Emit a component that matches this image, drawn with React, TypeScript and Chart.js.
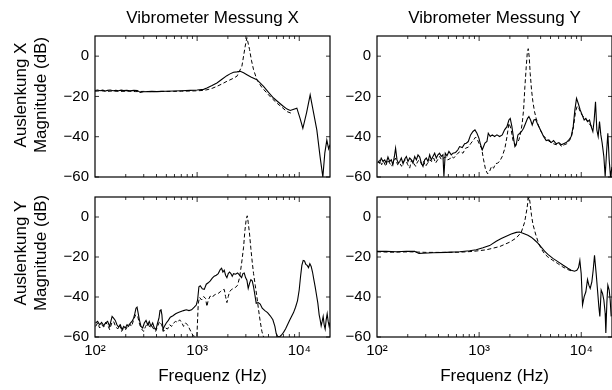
import React, { useEffect, useRef } from 'react';
import { Chart, registerables } from 'chart.js';

Chart.register(...registerables);

type Pt = [number, number]; // [frequency Hz, magnitude dB]

const freqTicks = [100, 1000, 10000];
const freqTickLabels = ['10\u00B2', '10\u00B3', '10\u2074'];
const dbTicks = [-60, -40, -20, 0];
const columnTitles = ['Vibrometer Messung X', 'Vibrometer Messung Y'];
const rowTitles = [['Auslenkung X', 'Magnitude (dB)'], ['Auslenkung Y', 'Magnitude (dB)']];
const xAxisTitle = 'Frequenz (Hz)';

// Row "Auslenkung X", column "Messung X"
const xxSolid: Pt[] = [
  [100, -17.1], [106, -16.8], [112, -17.2], [119, -16.9], [126, -17.3], [133, -17.0], [141, -16.8], [150, -17.2],
  [160, -17.0], [170, -17.2], [180, -16.9], [191, -17.1], [205, -17.0], [220, -17.2], [240, -17.0], [260, -17.1],
  [278, -18.0], [300, -17.7], [330, -17.6], [360, -17.5], [404, -17.6], [450, -17.5], [500, -17.4], [588, -17.3],
  [700, -17.2], [857, -17.0], [1000, -16.8], [1157, -16.5], [1247, -15.8], [1400, -14.6], [1562, -13.3], [1750, -11.5],
  [1956, -9.7], [2100, -8.8], [2274, -8.0], [2450, -7.8], [2644, -7.5], [2850, -8.3], [3072, -9.2], [3400, -10.5],
  [3847, -11.7], [4472, -15.0], [5000, -18.0], [5602, -20.8], [6300, -23.0], [7015, -25.0], [7600, -26.3], [8153, -27.0],
  [8700, -26.5], [9474, -25.8], [10200, -31.0], [10845, -35.8], [11800, -28.0], [12790, -19.2], [13800, -28.0],
  [14870, -36.7], [16000, -50.0], [17020, -60.0], [17800, -48.0], [18620, -41.7], [19400, -46.0], [20000, -44.0],
];
const xxDashed: Pt[] = [
  [100, -17.4], [115, -17.2], [130, -17.5], [150, -17.3], [175, -17.5], [210, -17.4], [250, -17.6], [300, -17.5],
  [360, -17.6], [450, -17.5], [588, -17.5], [700, -17.4], [857, -17.3], [1000, -17.2], [1157, -17.0], [1247, -16.7],
  [1400, -16.0], [1562, -15.0], [1750, -13.8], [1956, -12.5], [2200, -11.3], [2452, -10.0], [2744, -5.0], [2958, 5.0],
  [3072, 9.2], [3261, 3.3], [3400, -2.0], [3568, -6.7], [3847, -11.7], [4300, -15.5], [4819, -18.3], [5400, -21.0],
  [6037, -23.3], [6800, -25.5], [7559, -27.5], [8200, -28.2], [8787, -28.3],
];

// Row "Auslenkung X", column "Messung Y"
const xySolid: Pt[] = [
  [102, -52.3], [106, -53.1], [110, -50.6], [114.5, -52.3], [119, -51.5], [123, -53.1], [128, -50.1], [133, -52.3],
  [138, -51.5], [143, -53.9], [148, -49.8], [152, -45.7], [157, -51.5], [162, -53.1], [167, -52.3], [173, -50.6],
  [180, -53.4], [187, -51.1], [194, -49.8], [201, -52.3], [209, -50.6], [217, -51.5], [225, -53.1], [234, -49.8],
  [243, -51.5], [252, -49.0], [262, -50.1], [272, -53.1], [282, -54.7], [293, -51.5], [304, -50.6], [316, -52.3],
  [328, -49.0], [340, -51.5], [353, -49.8], [367, -48.2], [381, -50.6], [395, -49.0], [410, -48.2], [426, -49.8],
  [442, -49.0], [452, -59.7], [466, -48.2], [484, -49.5], [506, -47.3], [534, -49.0], [554, -48.2], [588, -47.8],
  [620, -46.5], [644, -44.9], [684, -45.4], [721, -43.5], [748, -43.2], [783, -42.4], [825, -39.1], [870, -37.4],
  [910, -36.6], [952, -38.3], [995, -40.7], [1034, -44.0], [1073, -46.5], [1106, -44.9], [1140, -43.2], [1192, -42.4],
  [1229, -38.3], [1285, -39.9], [1345, -39.1], [1417, -39.9], [1494, -39.1], [1586, -39.9], [1684, -39.1], [1775, -36.6],
  [1871, -35.0], [1957, -31.7], [2017, -30.9], [2094, -35.0], [2174, -40.7], [2241, -44.9], [2309, -44.0], [2397, -39.1],
  [2489, -38.3], [2603, -37.4], [2724, -35.8], [2850, -33.3], [2980, -30.9], [3072, -30.0], [3189, -31.7], [3311, -34.2],
  [3438, -31.7], [3569, -31.4], [3706, -33.3], [3847, -35.0], [4055, -37.4], [4274, -39.9], [4539, -41.9], [4819, -41.6],
  [5080, -42.9], [5355, -41.9], [5687, -43.5], [6037, -42.9], [6364, -44.0], [6708, -43.5], [7122, -42.9], [7561, -41.6],
  [7970, -39.9], [8340, -35.0], [8659, -26.7], [8990, -21.0], [9333, -23.4], [9763, -26.7], [10212, -29.2], [10683, -31.7],
  [11092, -30.9], [11515, -32.5], [12044, -31.7], [12505, -35.0], [12986, -37.4], [13382, -31.7], [13790, -22.6],
  [14208, -36.6], [14644, -39.9], [15091, -32.5], [15552, -39.1], [16025, -43.2], [16640, -49.8], [17148, -59.7],
  [17670, -48.2], [18209, -38.3], [18764, -51.5], [19337, -59.7], [20000, -55.0],
];
const xyDashed: Pt[] = [
  [102, -53.1], [106, -51.5], [111, -53.9], [116, -52.3], [122, -54.7], [127, -51.5], [133, -53.1], [139, -54.7],
  [146, -52.3], [152, -50.6], [159, -53.9], [167, -53.1], [174, -54.7], [182, -52.3], [191, -51.5], [200, -53.9],
  [209, -55.6], [218, -51.5], [228, -53.1], [239, -54.7], [250, -52.3], [262, -51.5], [274, -53.9], [286, -52.3],
  [299, -54.7], [313, -53.1], [328, -51.5], [343, -52.3], [359, -50.6], [375, -53.1], [392, -51.5], [410, -49.8],
  [429, -51.5], [449, -50.6], [470, -50.1], [491, -51.5], [514, -51.1], [538, -49.8], [563, -50.6], [588, -49.5],
  [620, -48.2], [654, -47.3], [694, -48.2], [737, -45.7], [783, -45.2], [832, -43.2], [883, -41.6], [923, -40.2],
  [966, -41.6], [1011, -44.0], [1057, -45.7], [1106, -51.5], [1157, -56.4], [1210, -58.4], [1266, -57.2], [1324, -54.7],
  [1385, -55.6], [1449, -53.4], [1516, -53.1], [1586, -52.3], [1684, -49.8], [1788, -45.7], [1871, -40.2], [1957, -33.3],
  [2047, -35.8], [2141, -41.6], [2241, -44.0], [2344, -43.2], [2452, -41.6], [2564, -37.4], [2642, -33.3], [2724, -26.7],
  [2806, -15.2], [2892, -5.3], [2958, 1.3], [3025, 3.7], [3094, -0.4], [3164, -8.6], [3261, -16.9], [3360, -22.6],
  [3488, -27.6], [3622, -30.9], [3789, -34.2], [3964, -36.6], [4210, -39.1], [4471, -40.7], [4747, -41.9], [5042, -42.9],
  [5355, -43.5], [5687, -44.0], [6037, -43.2], [6412, -44.9], [6808, -44.0], [7229, -43.5], [7675, -41.9], [8029, -39.9],
  [8400, -35.0], [8788, -27.6], [9125, -24.8], [9474, -25.9], [9911, -28.4], [10367, -29.7], [10845, -30.9],
  [11343, -31.7], [11868, -33.3], [12415, -34.6], [12986, -35.0],
];

// Row "Auslenkung Y", column "Messung X"
const yxSolid: Pt[] = [
  [101.5, -53.0], [106, -52.2], [111, -53.9], [116, -52.7], [122, -54.4], [127, -53.0], [133, -52.2], [139, -54.7],
  [143, -52.2], [147, -49.7], [152, -50.6], [158, -51.7], [164, -53.9], [170, -55.0], [177, -53.9], [184, -56.3],
  [191, -54.7], [198, -55.5], [206, -53.9], [213, -54.7], [222, -53.0], [230, -52.2], [239, -50.6], [246, -48.1],
  [252, -45.6], [258, -45.1], [264, -47.8], [272, -51.4], [282, -54.7], [293, -55.5], [304, -53.0], [316, -51.7],
  [328, -53.9], [340, -52.2], [353, -54.7], [367, -53.0], [381, -55.5], [395, -56.3], [410, -53.0], [423, -50.6],
  [433, -46.8], [442, -46.1], [452, -48.9], [463, -56.3], [477, -54.7], [499, -53.0], [522, -51.7], [546, -50.1],
  [580, -49.4], [616, -48.4], [654, -47.8], [694, -47.3], [737, -46.8], [783, -46.4], [832, -46.8], [883, -46.4],
  [938, -45.1], [981, -44.0], [1011, -41.5], [1041, -34.9], [1073, -34.4], [1123, -35.9], [1175, -36.2], [1229, -33.6],
  [1285, -32.9], [1345, -31.9], [1407, -30.6], [1471, -29.6], [1539, -29.1], [1610, -28.3], [1684, -26.3], [1736, -25.6],
  [1788, -27.5], [1843, -26.6], [1899, -29.1], [1957, -30.3], [2017, -28.3], [2078, -27.5], [2141, -28.3], [2207, -29.6],
  [2274, -28.3], [2379, -28.6], [2489, -28.0], [2603, -29.1], [2724, -30.3], [2806, -28.3], [2892, -28.0], [2980, -30.3],
  [3072, -31.6], [3164, -35.7], [3261, -33.2], [3360, -31.3], [3463, -31.9], [3569, -34.9], [3678, -39.0], [3789, -43.1],
  [3964, -42.8], [4147, -43.5], [4338, -45.6], [4607, -46.8], [4892, -47.8], [5195, -49.4], [5516, -51.4], [5773, -54.7],
  [5947, -58.3], [6128, -59.6], [6412, -60.0], [6708, -59.0], [7016, -57.7], [7337, -56.0], [7675, -53.9], [8029, -51.7],
  [8400, -49.7], [8788, -47.8], [9195, -45.1], [9618, -41.8], [9986, -36.5], [10290, -29.9], [10603, -24.2],
  [10926, -21.7], [11260, -22.0], [11602, -23.7], [11956, -24.2], [12322, -25.3], [12697, -23.3], [13084, -24.7],
  [13484, -27.5], [13895, -31.3], [14318, -34.9], [14754, -39.0], [15205, -43.1], [15668, -48.9], [16025, -51.4],
  [16390, -54.4], [16764, -52.2], [17148, -49.7], [17539, -53.9], [17939, -56.0], [18348, -51.4], [18766, -48.4],
  [19194, -52.2], [19632, -54.7], [20000, -52.7],
];
const yxDashed: Pt[] = [
  [101.5, -54.7], [106, -53.0], [111, -55.5], [116, -53.9], [122, -55.0], [127, -52.7], [133, -53.9], [139, -56.3],
  [146, -53.0], [152, -52.2], [159, -54.7], [167, -56.0], [174, -53.9], [182, -57.2], [191, -55.5], [200, -56.3],
  [209, -54.4], [218, -53.4], [228, -54.7], [239, -51.4], [250, -48.9], [262, -49.7], [274, -53.9], [286, -56.0],
  [299, -57.2], [313, -54.7], [328, -53.0], [343, -55.0], [359, -54.4], [375, -56.0], [392, -57.2], [410, -54.7],
  [429, -52.2], [449, -53.9], [470, -57.2], [491, -55.5], [514, -56.0], [538, -53.9], [563, -54.7], [588, -53.0],
  [616, -52.2], [644, -52.7], [674, -51.4], [705, -52.7], [737, -54.7], [771, -53.0], [807, -53.9], [844, -56.0],
  [883, -58.0], [923, -59.6], [966, -59.6], [995, -59.6], [1026, -43.1], [1057, -40.2], [1106, -41.5], [1157, -39.8],
  [1210, -40.7], [1247, -44.8], [1285, -41.5], [1345, -39.5], [1407, -40.2], [1471, -39.0], [1539, -38.5], [1610, -38.2],
  [1684, -37.4], [1762, -36.5], [1843, -36.2], [1899, -39.8], [1957, -42.8], [2017, -39.8], [2078, -37.4], [2174, -36.2],
  [2274, -35.7], [2379, -35.2], [2489, -34.1], [2603, -30.3], [2724, -23.3], [2850, -15.1], [2936, -6.8], [3025, -1.1],
  [3094, 0.6], [3164, -2.7], [3261, -8.5], [3360, -15.9], [3463, -22.5], [3569, -28.3], [3706, -34.1], [3847, -39.8],
  [3994, -46.4], [4147, -52.2], [4306, -57.2], [4471, -60.0],
];

// Row "Auslenkung Y", column "Messung Y"
const yySolid: Pt[] = [
  [100, -17.2], [123, -17.2], [155, -17.4], [194, -17.1], [234, -17.2], [246, -17.7], [258, -18.2], [282, -18.1],
  [353, -17.9], [477, -17.7], [644, -17.4], [807, -16.9], [937, -16.4], [1089, -15.4], [1266, -14.3], [1471, -12.1],
  [1647, -10.8], [1843, -9.6], [2062, -8.5], [2309, -7.7], [2489, -7.5], [2724, -8.2], [3002, -9.1], [3237, -10.1],
  [3488, -11.5], [3761, -13.1], [4055, -15.1], [4372, -17.1], [4713, -18.7], [5274, -20.7], [5902, -22.3], [6607, -24.0],
  [7394, -25.6], [7970, -26.6], [8594, -27.1], [9056, -26.6], [9402, -25.3], [9690, -21.7], [9984, -28.3], [10290, -44.0],
  [10683, -39.8], [11092, -37.4], [11515, -31.3], [11868, -34.1], [12230, -35.7], [12697, -32.4], [13084, -26.6],
  [13484, -19.2], [13999, -28.3], [14428, -36.5], [14866, -44.8], [15205, -49.7], [15668, -36.5], [16148, -38.2],
  [16640, -41.5], [17148, -48.1], [17407, -58.0], [17803, -43.1], [18209, -34.1], [18764, -36.5], [19194, -41.5],
  [19632, -49.7],
];
const yyDashed: Pt[] = [
  [100, -17.4], [143, -17.6], [209, -17.4], [304, -17.7], [442, -17.7], [644, -17.6], [870, -17.2], [1175, -16.4],
  [1586, -14.8], [1987, -12.6], [2309, -10.5], [2584, -7.7], [2786, -2.7], [2936, 3.9], [3025, 8.8], [3094, 10.0],
  [3164, 6.4], [3261, 0.6], [3360, -3.5], [3569, -8.5], [3789, -12.6], [4055, -15.9], [4372, -18.4], [4713, -20.0],
  [5274, -21.7], [5902, -23.3], [6607, -25.0], [7394, -26.3], [8151, -27.1],
];

const FREQ_MIN = 100;
const FREQ_MAX = 20000;
const DB_MIN = -60;
const DB_MAX = 10;

const FONT_FAMILY = '"Liberation Sans", Arial, Helvetica, sans-serif';
const CANVAS_W = 612;
const CANVAS_H = 390;
const COL_LEFT = [95, 377];
const COL_RIGHT = [330, 612];
const ROW_TOP = [36, 197];
const ROW_BOTTOM = [177, 337];
const ROW_TITLE_CENTER = [95, 253];
const ROW_TITLE_X = 21;
const LABEL_SIZE = 17;

interface PanelSpec {
  row: number;
  col: number;
  solid: Pt[];
  dashed: Pt[];
}

const panels: PanelSpec[] = [
  { row: 0, col: 0, solid: xxSolid, dashed: xxDashed },
  { row: 0, col: 1, solid: xySolid, dashed: xyDashed },
  { row: 1, col: 0, solid: yxSolid, dashed: yxDashed },
  { row: 1, col: 1, solid: yySolid, dashed: yyDashed },
];

const framePlugin = {
  id: 'matlabFrame',
  afterDatasetsDraw(chart: any) {
    const { ctx, chartArea: a } = chart;
    const xs = chart.scales.x;
    const ys = chart.scales.y;
    ctx.save();
    ctx.strokeStyle = '#000';
    ctx.lineWidth = 0.8;
    ctx.beginPath();
    for (let dec = 100; dec <= 10000; dec *= 10) {
      for (let m = 1; m <= 9; m++) {
        const v = dec * m;
        if (v >= FREQ_MAX) break;
        if (v === FREQ_MIN) continue;
        const px = xs.getPixelForValue(v);
        const len = m === 1 ? 5 : 3;
        ctx.moveTo(px, a.bottom);
        ctx.lineTo(px, a.bottom - len);
        ctx.moveTo(px, a.top);
        ctx.lineTo(px, a.top + len);
      }
    }
    for (const v of dbTicks) {
      const py = ys.getPixelForValue(v);
      ctx.moveTo(a.left, py);
      ctx.lineTo(a.left + 4, py);
      ctx.moveTo(a.right, py);
      ctx.lineTo(a.right - 4, py);
    }
    ctx.stroke();
    ctx.lineWidth = 1.2;
    ctx.strokeRect(a.left, a.top, a.right - a.left, a.bottom - a.top);
    ctx.restore();
  },
};

const rowTitlePlugin = {
  id: 'rowTitle',
  afterDraw(chart: any, _args: any, opts: any) {
    const lines: string[] | undefined = opts && opts.lines;
    if (!lines || !lines.length) return;
    const { ctx } = chart;
    ctx.save();
    ctx.font = `${LABEL_SIZE}px ${FONT_FAMILY}`;
    ctx.fillStyle = '#000';
    ctx.textAlign = 'center';
    ctx.textBaseline = 'middle';
    ctx.translate(ROW_TITLE_X, opts.centerY);
    ctx.rotate(-Math.PI / 2);
    lines.forEach((t, i) => ctx.fillText(t, 0, i * LABEL_SIZE * 1.2));
    ctx.restore();
  },
};

function buildConfig(spec: PanelSpec): any {
  const { row, col } = spec;
  const left = COL_LEFT[col];
  const right = COL_RIGHT[col];
  const top = ROW_TOP[row];
  const bottom = ROW_BOTTOM[row];
  const yWidth = col === 0 ? left : 50;
  const xHeight = row === 0 ? top : CANVAS_H - bottom;
  const padding = {
    left: left - yWidth,
    right: CANVAS_W - right,
    top: row === 0 ? 0 : top,
    bottom: row === 0 ? CANVAS_H - bottom : 0,
  };

  const titleFont = { family: FONT_FAMILY, size: LABEL_SIZE };
  const tickFont = { family: FONT_FAMILY, size: 15 };

  return {
    type: 'line',
    data: {
      datasets: [
        {
          label: 'Messung',
          data: spec.solid.map(([x, y]) => ({ x, y })),
          borderColor: '#000',
          borderWidth: 1.1,
          pointRadius: 0,
          tension: 0,
          fill: false,
        },
        {
          label: 'Modell',
          data: spec.dashed.map(([x, y]) => ({ x, y })),
          borderColor: '#000',
          borderWidth: 1,
          borderDash: [4, 2.5],
          pointRadius: 0,
          tension: 0,
          fill: false,
        },
      ],
    },
    options: {
      animation: false,
      responsive: false,
      events: [],
      layout: { padding },
      plugins: {
        legend: { display: false },
        tooltip: { enabled: false },
        title: { display: false },
        rowTitle: col === 0 ? { lines: rowTitles[row], centerY: ROW_TITLE_CENTER[row] } : { lines: [] },
      },
      scales: {
        x: {
          type: 'logarithmic',
          position: row === 0 ? 'top' : 'bottom',
          min: FREQ_MIN,
          max: FREQ_MAX,
          grid: { display: false, drawTicks: false },
          border: { display: false },
          afterBuildTicks: (s: any) => {
            s.ticks = freqTicks.map((value) => ({ value }));
          },
          afterFit: (s: any) => {
            s.height = xHeight;
            s.paddingLeft = 0;
            s.paddingRight = 0;
          },
          ticks: {
            display: row === 1,
            autoSkip: false,
            maxRotation: 0,
            minRotation: 0,
            padding: 5,
            color: '#000',
            font: tickFont,
            callback: (v: any) => {
              const i = freqTicks.indexOf(Number(v));
              return i >= 0 ? freqTickLabels[i] : '';
            },
          },
          title: row === 0
            ? { display: true, text: columnTitles[col], color: '#000', font: titleFont, padding: { top: 8, bottom: 0 } }
            : { display: true, text: xAxisTitle, color: '#000', font: titleFont, padding: { top: 0, bottom: 3 } },
        },
        y: {
          type: 'linear',
          position: 'left',
          min: DB_MIN,
          max: DB_MAX,
          grid: { display: false, drawTicks: false },
          border: { display: false },
          afterBuildTicks: (s: any) => {
            s.ticks = dbTicks.map((value) => ({ value }));
          },
          afterFit: (s: any) => {
            s.width = yWidth;
            s.paddingTop = 0;
            s.paddingBottom = 0;
          },
          ticks: {
            padding: 6,
            color: '#000',
            font: tickFont,
            callback: (v: any) => (Number(v) < 0 ? '\u2212' + Math.abs(Number(v)) : String(v)),
          },
          title: { display: false },
        },
      },
    },
    plugins: [framePlugin, rowTitlePlugin],
  };
}

function Panel({ spec }: { spec: PanelSpec }) {
  const ref = useRef<HTMLCanvasElement>(null);
  useEffect(() => {
    const chart = new Chart(ref.current as HTMLCanvasElement, buildConfig(spec));
    return () => chart.destroy();
  }, [spec]);
  return (
    <canvas
      ref={ref}
      width={CANVAS_W}
      height={CANVAS_H}
      style={{ position: 'absolute', left: 0, top: 0, width: CANVAS_W, height: CANVAS_H }}
    />
  );
}

export default function App() {
  return (
    <div
      style={{
        position: 'absolute',
        left: 0,
        top: 0,
        width: CANVAS_W,
        height: CANVAS_H,
        background: '#fff',
        overflow: 'hidden',
      }}
    >
      {panels.map((p, i) => (
        <Panel key={i} spec={p} />
      ))}
    </div>
  );
}
